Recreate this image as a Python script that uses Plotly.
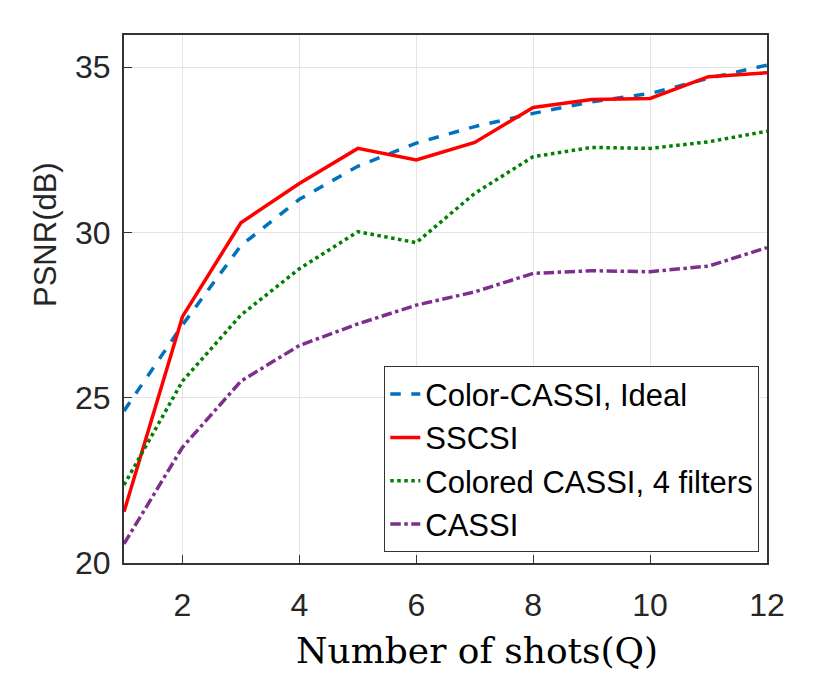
import plotly.graph_objects as go

Q = [1, 2, 3, 4, 5, 6, 7, 8, 9, 10, 11, 12]
color_cassi_ideal = [24.6, 27.2, 29.6, 31.0, 32.0, 32.7, 33.2, 33.6, 33.95, 34.2, 34.66, 35.06]
sscsi = [21.55, 27.45, 30.29, 31.48, 32.54, 32.19, 32.72, 33.78, 34.02, 34.05, 34.71, 34.83]
colored_cassi_4 = [22.36, 25.5, 27.5, 28.9, 30.02, 29.69, 31.18, 32.29, 32.57, 32.54, 32.74, 33.06]
cassi = [20.58, 23.5, 25.5, 26.58, 27.23, 27.8, 28.2, 28.76, 28.84, 28.81, 28.98, 29.54]

names = ["Color-CASSI, Ideal", "SSCSI", "Colored CASSI, 4 filters", "CASSI"]
series = [color_cassi_ideal, sscsi, colored_cassi_4, cassi]
colors = ["#0072BD", "#FF0000", "#008000", "#7E2F8E"]
dashes = ["dash", "solid", "dot", "dashdot"]

fig = go.Figure()
for n, s, c, d in zip(names, series, colors, dashes):
    fig.add_trace(go.Scatter(x=Q, y=s, mode="lines", name=n,
                             line=dict(color=c, width=3.5, dash=d)))

fig.update_layout(
    width=825, height=675,
    margin=dict(l=124, r=58, t=35, b=112),
    paper_bgcolor="white", plot_bgcolor="white",
    font=dict(family="Liberation Sans, Arial, sans-serif", color="#262626"),
    legend=dict(x=0.988, y=0.02, xanchor="right", yanchor="bottom",
                bgcolor="white", bordercolor="#333333", borderwidth=1,
                font=dict(size=31, color="black"), tracegroupgap=0),
    annotations=[
        dict(text="Number of shots(Q)", xref="paper", yref="paper",
             x=(477 - 124) / 643, y=-(650 - 563) / 528, xanchor="center", yanchor="middle",
             showarrow=False,
             font=dict(family="DejaVu Serif, Liberation Serif, serif", size=36, color="black")),
        dict(text="PSNR(dB)", xref="paper", yref="paper",
             x=-(124 - 45) / 643, y=(563 - 235) / 528, xanchor="center", yanchor="middle",
             showarrow=False, textangle=-90,
             font=dict(size=31, color="#262626")),
    ],
)
fig.update_xaxes(range=[1, 12], tickvals=[2, 4, 6, 8, 10, 12],
                 showgrid=True, gridcolor="#E5E5E5", gridwidth=1,
                 showline=True, linecolor="#333333", linewidth=2, mirror=True,
                 ticks="inside", ticklen=8, tickcolor="#333333",
                 tickfont=dict(size=32), zeroline=False, ticklabelstandoff=13)
fig.update_yaxes(range=[20, 35.97], tickvals=[20, 25, 30, 35],
                 showgrid=True, gridcolor="#E5E5E5", gridwidth=1,
                 showline=True, linecolor="#333333", linewidth=2, mirror=True,
                 ticks="inside", ticklen=8, tickcolor="#333333",
                 tickfont=dict(size=32), zeroline=False, ticklabelstandoff=5)

fig.write_html("out.html")
